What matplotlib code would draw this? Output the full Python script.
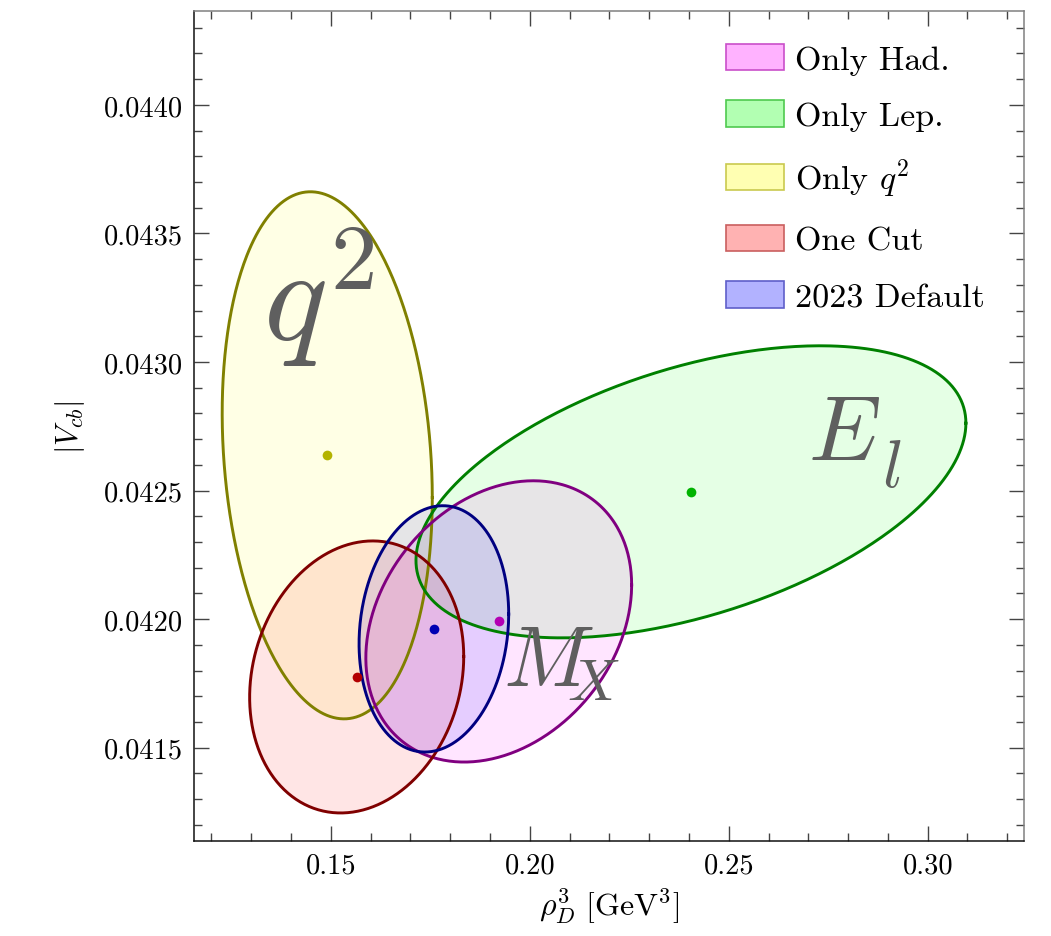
import numpy as np
import matplotlib
matplotlib.use("Agg")
import matplotlib.pyplot as plt
from matplotlib.patches import Patch
from matplotlib.ticker import MultipleLocator, FormatStrFormatter

plt.rcParams['font.family'] = ['cmr10', 'DejaVu Serif']
plt.rcParams['mathtext.fontset'] = 'cm'
plt.rcParams['axes.formatter.use_mathtext'] = True

# fit results: centre, 1-sigma widths and correlation of each fit
labels = ['Only Had.', 'Only Lep.', 'Only $q^2$', 'One Cut', '2023 Default']
center_x = [0.1922, 0.2405, 0.1491, 0.1565, 0.1759]
center_y = [0.041991, 0.042495, 0.042637, 0.041775, 0.041962]
sigma_x = [0.0334, 0.0691, 0.0264, 0.0269, 0.0188]
sigma_y = [0.000547, 0.000568, 0.001025, 0.000529, 0.000479]
rho = [0.26, 0.47, -0.16, 0.15, 0.12]

# big in-plot labels
tags = [r'$M_{\!\!X}$', '$E$', '$l$', '$q^2$']
tag_x = [0.1932, 0.2698, 0.2884, 0.1330]
tag_y = [0.041740, 0.042623, 0.042518, 0.043086]
tag_size = [61, 66, 48, 96]

base = [(1, 0, 1), (0, 1, 0), (1, 1, 0), (1, 0, 0), (0, 0, 1)]
edge = ['#800080', '#008000', '#808000', '#800000', '#000080']
dot = ['#b300b3', '#00b300', '#b3b300', '#b30000', '#0000b3']
legend_edge = ['#c94fc9', '#4fc94f', '#c9c94f', '#c95f5f', '#5f5fc9']


def ellipse_xy(cx, cy, sx, sy, r, n=400):
    t = np.linspace(0, 2 * np.pi, n)
    x = cx + sx * np.cos(t)
    y = cy + sy * (r * np.cos(t) + np.sqrt(1 - r ** 2) * np.sin(t))
    return x, y


fig = plt.figure(figsize=(10.51, 9.37), dpi=100)
ax = fig.add_axes([0.1849, 0.1014, 0.7894, 0.8855])

order = [2, 1, 0, 3, 4]
for i in order:
    x, y = ellipse_xy(center_x[i], center_y[i], sigma_x[i], sigma_y[i], rho[i])
    ax.fill(x, y, facecolor=base[i] + (0.1,), edgecolor='none', zorder=1)
    ax.plot(x, y, color=edge[i], lw=2.1, zorder=2)
for i in order:
    ax.plot(center_x[i], center_y[i], 'o', color=dot[i], ms=7, mec='none', zorder=3)

for t, x, y, s in zip(tags, tag_x, tag_y, tag_size):
    ax.text(x, y, t, fontsize=s, color='#5f5f5f', ha='left', va='baseline', zorder=4)

ax.set_xlim(0.1157, 0.3242)
ax.set_ylim(0.041137, 0.044364)
ax.xaxis.set_major_locator(MultipleLocator(0.05))
ax.xaxis.set_minor_locator(MultipleLocator(0.01))
ax.yaxis.set_major_locator(MultipleLocator(0.0005))
ax.yaxis.set_minor_locator(MultipleLocator(0.0001))
ax.xaxis.set_major_formatter(FormatStrFormatter('%.2f'))
ax.yaxis.set_major_formatter(FormatStrFormatter('%.4f'))

ax.tick_params(which='both', direction='in', top=True, right=True,
               color='#444444', labelsize=20.5, width=1.0)
ax.tick_params(which='major', length=11, pad=8)
ax.tick_params(which='minor', length=6)
for side in ['left', 'bottom']:
    ax.spines[side].set_color('#111111')
    ax.spines[side].set_linewidth(1.1)
for side in ['top', 'right']:
    ax.spines[side].set_color('#808080')
    ax.spines[side].set_linewidth(1.1)

ax.set_xlabel(r'$\rho_D^3\ [\mathrm{GeV}^3]$', fontsize=23, labelpad=5)
ax.set_ylabel(r'$|V_{cb}|$', fontsize=22, labelpad=12)

handles = [Patch(facecolor=base[i] + (0.3,), edgecolor=legend_edge[i], lw=1.2)
           for i in range(len(labels))]
ax.legend(handles, labels, loc='upper left', bbox_to_anchor=(0.641, 0.961),
          frameon=False, fontsize=24.5, handlelength=1.7, handleheight=0.82,
          handletextpad=0.33, labelspacing=0.75, borderpad=0, borderaxespad=0)

plt.savefig('out.png', dpi=100)
